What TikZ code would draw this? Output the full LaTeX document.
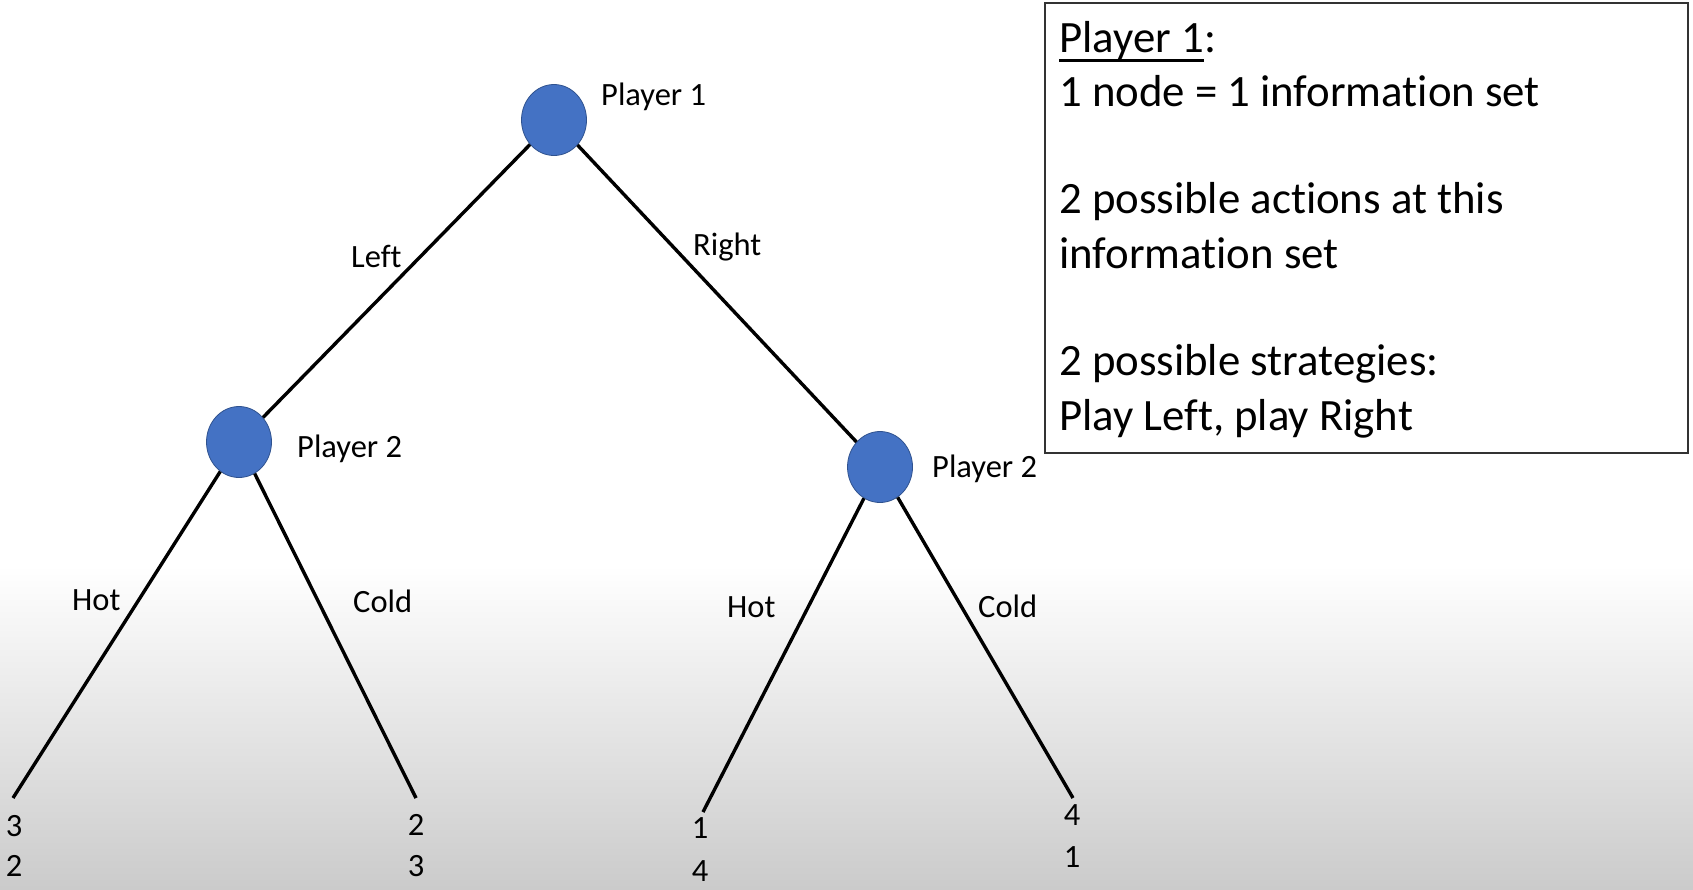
\documentclass[tikz,border=0pt]{standalone}
\usepackage{fontspec}
\setmainfont[RawFeature={-liga;-dlig;-clig}]{Carlito}
\usetikzlibrary{shapes.geometric}
\definecolor{nodeblue}{RGB}{68,114,196}
\definecolor{nodeedge}{RGB}{47,82,143}
\definecolor{bggray}{RGB}{203,203,203}
\begin{document}
\begin{tikzpicture}[x=1pt,y=-1pt,
  gnode/.style={ellipse,fill=nodeblue,draw=nodeedge,line width=0.8pt,minimum width=65pt,minimum height=71pt,inner sep=0pt},
  edge/.style={line width=3.4pt,black},
  lbl/.style={font=\fontsize{32.5}{38}\selectfont,inner sep=0pt,anchor=base west},
  pay/.style={font=\fontsize{32.5}{38}\selectfont,inner sep=0pt},
  boxtxt/.style={font=\fontsize{44.8}{54}\selectfont,inner sep=0pt,anchor=base west}]
\useasboundingbox (0,0) rectangle (1693,889);
\fill[white] (0,0) rectangle (1693,889);
\shade[top color=white,bottom color=bggray] (0,565) rectangle (1693,889);
% game nodes
\node[gnode] (root) at (554,120) {};
\node[gnode] (lp) at (239,442) {};
\node[gnode] (rp) at (880,467) {};
\coordinate (ll) at (13,798);
\coordinate (lr) at (416,798);
\coordinate (rl) at (703,812);
\coordinate (rr) at (1073,798);
\draw[edge] (root) -- (lp);
\draw[edge] (root) -- (rp);
\draw[edge] (lp) -- (ll);
\draw[edge] (lp) -- (lr);
\draw[edge] (rp) -- (rl);
\draw[edge] (rp) -- (rr);
% labels
\node[lbl] (p1) at (601,105) {Player 1};
\node[lbl] (p2l) at (297,457) {Player 2};
\node[lbl] (p2r) at (932,477) {Player 2};
\node[lbl] (tleft) at (351,267) {Left};
\node[lbl] (tright) at (693,255) {Right};
\node[lbl] (hotl) at (72,610) {Hot};
\node[lbl] (coldl) at (353,612) {Cold};
\node[lbl] (hotr) at (727,617) {Hot};
\node[lbl] (coldr) at (978,617) {Cold};
% payoffs
\node[pay] (a1) at (14,826) {3};
\node[pay] (a2) at (14,866) {2};
\node[pay] (b1) at (416,825) {2};
\node[pay] (b2) at (416,866) {3};
\node[pay] (c1) at (700,828) {1};
\node[pay] (c2) at (700,871) {4};
\node[pay] (d1) at (1072,815) {4};
\node[pay] (d2) at (1072,857) {1};
% info box
\draw[line width=1.5pt,black!80] (1045,3) rectangle (1688,453);
\node[boxtxt] (bt0) at (1059,52) {Player 1};
\node[boxtxt,anchor=base west] (bt0c) at (bt0.base east) {:};
\draw[line width=2.2pt] ([yshift=-8.5pt]bt0.base west) -- ([yshift=-8.5pt]bt0.base east);
\node[boxtxt] (bt1) at (1059,106) {1 node = 1 information set};
\node[boxtxt] (bt2) at (1059,213) {2 possible actions at this};
\node[boxtxt] (bt3) at (1059,268) {information set};
\node[boxtxt] (bt4) at (1059,375) {2 possible strategies:};
\node[boxtxt] (bt5) at (1059,430) {Play Left, play Right};
\end{tikzpicture}
\end{document}
